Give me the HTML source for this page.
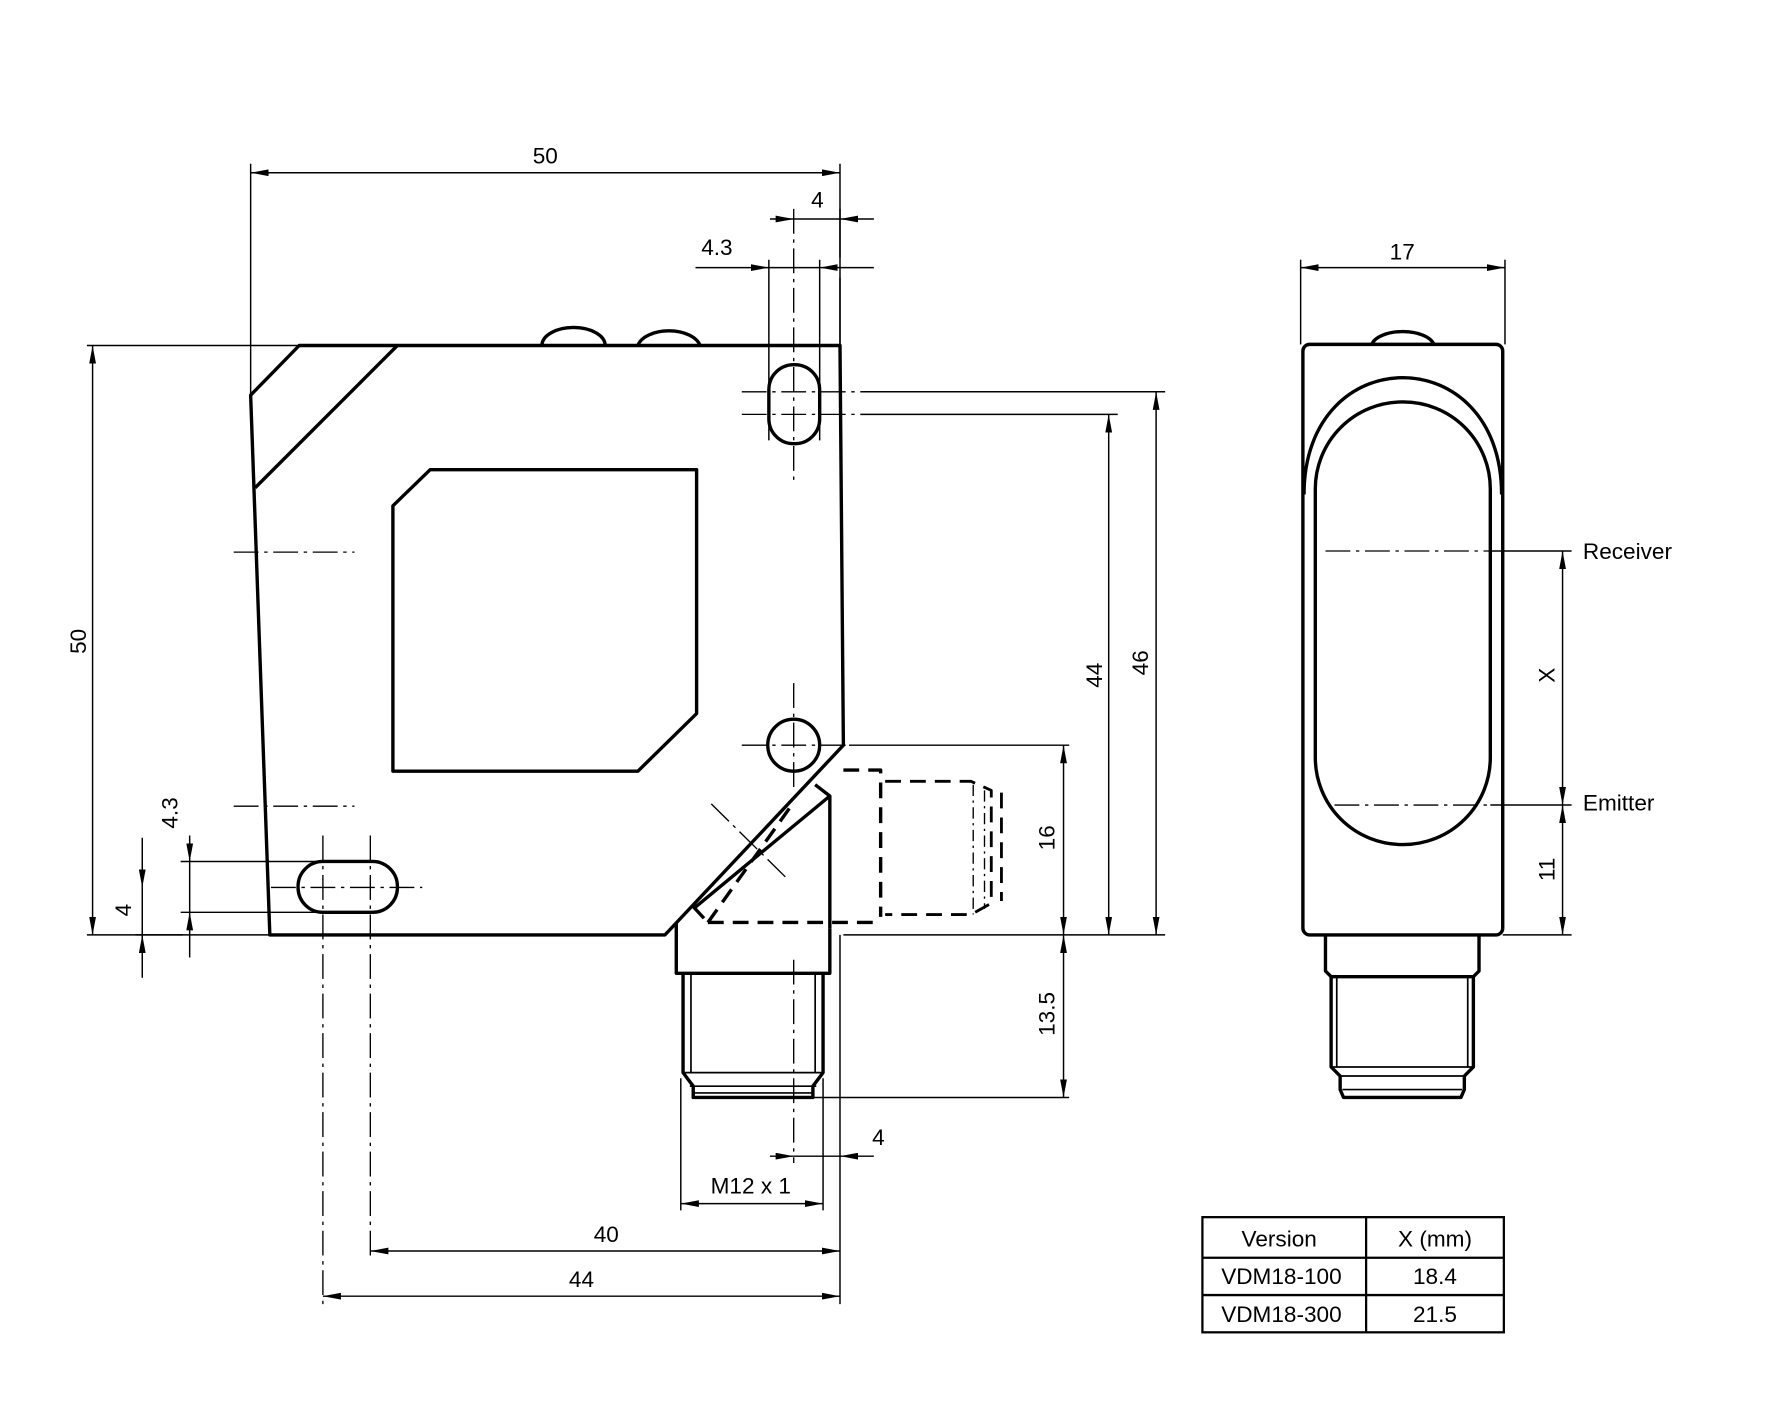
<!DOCTYPE html>
<html><head><meta charset="utf-8"><style>
html,body{margin:0;padding:0;background:#fff}
svg{display:block}
text{font-family:"Liberation Sans",sans-serif;font-size:20px;fill:#000}
</style></head><body>
<svg width="1772" height="1417" viewBox="-2 0 1569.5 1255" preserveAspectRatio="none" xmlns="http://www.w3.org/2000/svg">
<defs>
<marker id="a" viewBox="0 0 16 6" refX="16" refY="3" markerWidth="16" markerHeight="6" markerUnits="userSpaceOnUse" orient="auto-start-reverse"><path d="M0,0 L16,3 L0,6 z" fill="#000"/></marker>
</defs>
<g fill="none" stroke="#000" stroke-width="3" stroke-linejoin="round">
<path d="M263,306 L742,306 L745,660 L587,828 L237,828 L220,350 Z"/>
<line x1="350" y1="306" x2="224" y2="432"/>
<path d="M379,416 L615,416 L615,632 L563,683 L346,683 L346,448 Z"/>
<path d="M478,306 A28,16 0 0 1 534,306 M563,306 A28,16 0 0 1 618,306"/>
<rect x="679" y="323" width="45" height="70" rx="22"/>
<circle cx="701" cy="660" r="23"/>
<rect x="262" y="763" width="88" height="45" rx="22"/>
<path d="M720,695 L733,705 L733,822"/>
<line x1="733" y1="705" x2="612" y2="805"/>
<path d="M597,818 L597,862 L733,862 L733,822"/>
<path d="M603,862 L603,950 L612,962 L612,972 L718,972 L718,962 L727,950 L727,862"/>
<line x1="603" y1="950" x2="727" y2="950" stroke-width="1.5"/>
<line x1="609" y1="962" x2="721" y2="962" stroke-width="1.5"/>
<line x1="612" y1="968" x2="718" y2="968" stroke-width="1.5"/>
<line x1="610" y1="862" x2="610" y2="950" stroke-width="1.5"/>
<line x1="720" y1="862" x2="720" y2="950" stroke-width="1.5"/>
<g stroke-dasharray="14,8">
<path d="M745,682 L778,682 L778,812 M625,817 L778,817 M612,803 L625,817 M625,817 L700,712"/>
<path d="M782,692 L858,692 L876,700 L876,800 L858,810 L782,810" stroke-width="2.5"/>
<line x1="885" y1="702" x2="885" y2="798" stroke-width="2.5"/>
</g>
<g stroke-width="1.2" stroke-dasharray="10,4,2,4"><line x1="860" y1="695" x2="860" y2="810"/><line x1="870" y1="700" x2="870" y2="805"/></g>
<rect x="1152" y="305" width="177" height="523" rx="6"/>
<path d="M1213,305 A28,14 0 0 1 1268,305"/>
<path d="M1153,438 C1153,300 1328,300 1328,438"/>
<rect x="1163" y="356" width="155" height="392" rx="77"/>
<path d="M1172,828 L1172,860 L1177,865 L1303,865 L1308,860 L1308,828"/>
<path d="M1177,865 L1177,945 L1185,953 L1185,965 L1188,972 L1292,972 L1295,965 L1295,953 L1303,945 L1303,865"/>
</g>
<g fill="none" stroke="#000" stroke-width="1.5">
<line x1="1177" y1="945" x2="1303" y2="945"/><line x1="1185" y1="953" x2="1295" y2="953"/><line x1="1187" y1="965" x2="1293" y2="965"/>
<line x1="1182" y1="865" x2="1182" y2="945"/><line x1="1298" y1="865" x2="1298" y2="945"/>
</g>
<g fill="none" stroke="#000" stroke-width="1.3">
<line x1="220" y1="145" x2="220" y2="350"/><line x1="742" y1="145" x2="742" y2="306"/>
<line x1="220" y1="153" x2="742" y2="153" marker-start="url(#a)" marker-end="url(#a)"/>
<line x1="742" y1="185" x2="742" y2="228"/>
<line x1="680" y1="194" x2="701" y2="194" marker-end="url(#a)"/><line x1="772" y1="194" x2="742" y2="194" marker-end="url(#a)"/><line x1="701" y1="194" x2="742" y2="194"/>
<line x1="679" y1="230" x2="679" y2="390"/><line x1="724" y1="230" x2="724" y2="390"/>
<line x1="614" y1="237" x2="679" y2="237" marker-end="url(#a)"/><line x1="772" y1="237" x2="724" y2="237" marker-end="url(#a)"/><line x1="679" y1="237" x2="724" y2="237"/>
<line x1="742" y1="246" x2="742" y2="306"/>
<line x1="75" y1="306" x2="263" y2="306"/><line x1="75" y1="828" x2="237" y2="828"/>
<line x1="80" y1="306" x2="80" y2="828" marker-start="url(#a)" marker-end="url(#a)"/>
<line x1="760" y1="347" x2="1030" y2="347"/><line x1="760" y1="367" x2="988" y2="367"/>
<line x1="745" y1="828" x2="1030" y2="828"/>
<line x1="980" y1="367" x2="980" y2="828" marker-start="url(#a)" marker-end="url(#a)"/>
<line x1="1022" y1="347" x2="1022" y2="828" marker-start="url(#a)" marker-end="url(#a)"/>
<line x1="750" y1="660" x2="945" y2="660"/><line x1="718" y1="972" x2="945" y2="972"/>
<line x1="940" y1="660" x2="940" y2="828" marker-start="url(#a)" marker-end="url(#a)"/>
<line x1="940" y1="828" x2="940" y2="972" marker-start="url(#a)" marker-end="url(#a)"/>
<line x1="742" y1="828" x2="742" y2="1155"/>
<line x1="680" y1="1024" x2="701" y2="1024" marker-end="url(#a)"/><line x1="772" y1="1024" x2="742" y2="1024" marker-end="url(#a)"/><line x1="701" y1="1024" x2="742" y2="1024"/>
<line x1="601" y1="955" x2="601" y2="1072"/><line x1="727" y1="955" x2="727" y2="1072"/>
<line x1="601" y1="1066" x2="727" y2="1066" marker-start="url(#a)" marker-end="url(#a)"/>
<line x1="326" y1="1108" x2="742" y2="1108" marker-start="url(#a)" marker-end="url(#a)"/>
<line x1="284" y1="1148" x2="742" y2="1148" marker-start="url(#a)" marker-end="url(#a)"/>
<line x1="158" y1="763" x2="285" y2="763"/><line x1="158" y1="808" x2="285" y2="808"/>
<line x1="166" y1="740" x2="166" y2="763" marker-end="url(#a)"/><line x1="166" y1="848" x2="166" y2="808" marker-end="url(#a)"/><line x1="166" y1="763" x2="166" y2="808"/>
<line x1="118" y1="828" x2="160" y2="828"/>
<line x1="124" y1="742" x2="124" y2="786" marker-end="url(#a)"/><line x1="124" y1="866" x2="124" y2="828" marker-end="url(#a)"/><line x1="124" y1="786" x2="124" y2="828"/>
<line x1="1150" y1="230" x2="1150" y2="305"/><line x1="1331" y1="230" x2="1331" y2="305"/>
<line x1="1150" y1="237" x2="1331" y2="237" marker-start="url(#a)" marker-end="url(#a)"/>
<line x1="1318" y1="488" x2="1390" y2="488"/><line x1="1318" y1="713" x2="1390" y2="713"/><line x1="1329" y1="828" x2="1390" y2="828"/>
<line x1="1382" y1="488" x2="1382" y2="713" marker-start="url(#a)" marker-end="url(#a)"/>
<line x1="1382" y1="713" x2="1382" y2="828" marker-start="url(#a)" marker-end="url(#a)"/>
</g>
<g fill="none" stroke="#000" stroke-width="1.2" stroke-dasharray="22,5,3,5">
<line x1="701" y1="185" x2="701" y2="430"/><line x1="701" y1="605" x2="701" y2="700"/>
<line x1="701" y1="850" x2="701" y2="1030"/>
<line x1="655" y1="347" x2="760" y2="347"/><line x1="655" y1="367" x2="760" y2="367"/>
<line x1="655" y1="660" x2="750" y2="660"/>
<line x1="205" y1="489" x2="312" y2="489"/><line x1="205" y1="714" x2="312" y2="714"/>
<line x1="238" y1="786" x2="372" y2="786"/>
<line x1="284" y1="740" x2="284" y2="1155"/><line x1="326" y1="740" x2="326" y2="1115"/>
<line x1="1172" y1="488" x2="1318" y2="488"/><line x1="1180" y1="713" x2="1318" y2="713"/>
<line x1="628" y1="712" x2="695" y2="778"/>
</g>
<g text-anchor="middle">
<text x="481" y="145">50</text>
<text x="722" y="184">4</text>
<text x="633" y="226">4.3</text>
<text x="776" y="1014">4</text>
<text x="663" y="1057">M12 x 1</text>
<text x="535" y="1100">40</text>
<text x="513" y="1140">44</text>
<text x="1240" y="230">17</text>
<text transform="translate(74,568) rotate(-90)">50</text>
<text transform="translate(974,598) rotate(-90)">44</text>
<text transform="translate(1015,587) rotate(-90)">46</text>
<text transform="translate(932,742) rotate(-90)">16</text>
<text transform="translate(932,898) rotate(-90)">13.5</text>
<text transform="translate(155,720) rotate(-90)">4.3</text>
<text transform="translate(114,806) rotate(-90)">4</text>
<text transform="translate(1375,598) rotate(-90)">X</text>
<text transform="translate(1375,770) rotate(-90)">11</text>
</g>
<text x="1400" y="495">Receiver</text>
<text x="1400" y="718">Emitter</text>
<g fill="none" stroke="#000" stroke-width="2">
<rect x="1063" y="1078" width="267" height="102"/>
<line x1="1063" y1="1114" x2="1330" y2="1114"/><line x1="1063" y1="1147" x2="1330" y2="1147"/>
<line x1="1208" y1="1078" x2="1208" y2="1180"/>
</g>
<g text-anchor="middle">
<text x="1131" y="1104">Version</text><text x="1269" y="1104">X (mm)</text>
<text x="1133" y="1137">VDM18-100</text><text x="1269" y="1137">18.4</text>
<text x="1133" y="1171">VDM18-300</text><text x="1269" y="1171">21.5</text>
</g>
</svg>
</body></html>
